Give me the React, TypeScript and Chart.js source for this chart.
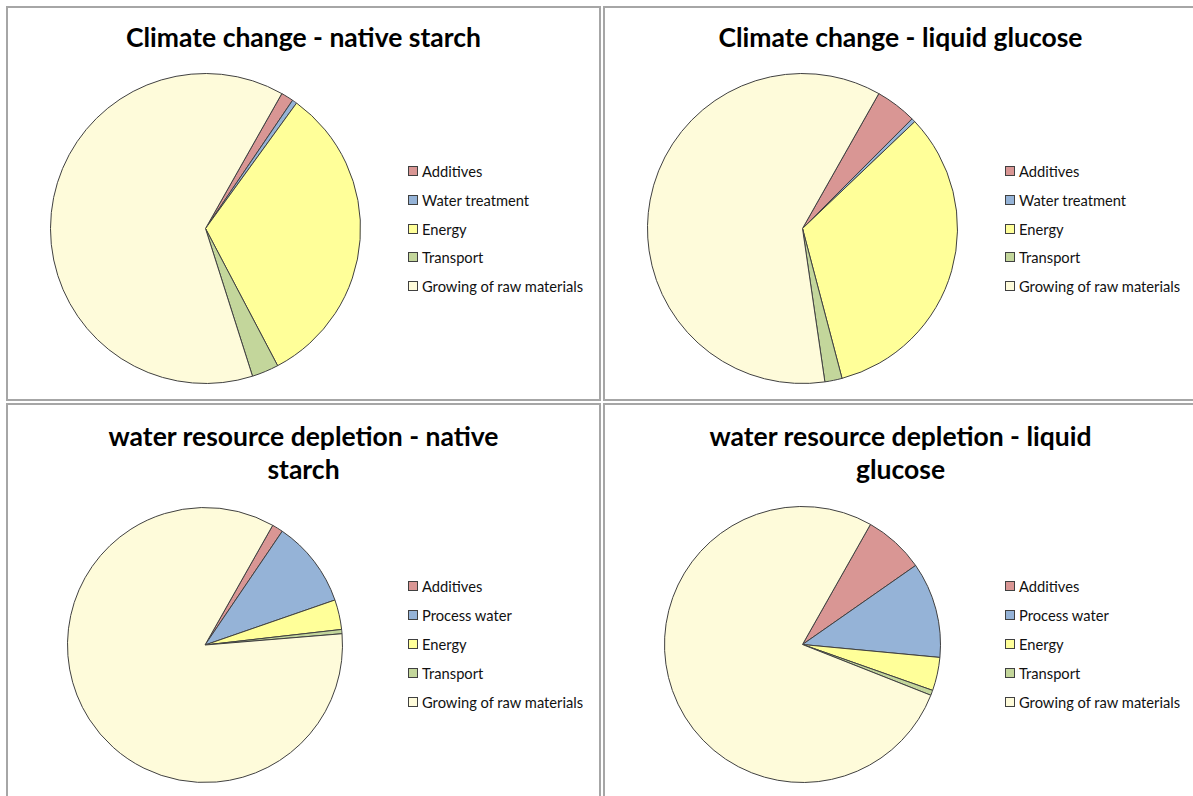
import React, { useEffect, useRef } from "react";
import { Chart, registerables } from "chart.js";

Chart.register(...registerables);

// ---- Data ----
const climateLabels = ["Additives", "Water treatment", "Energy", "Transport", "Growing of raw materials"];
const waterLabels = ["Additives", "Process water", "Energy", "Transport", "Growing of raw materials"];

const climateNativeStarch = [1.3, 0.5, 32.3, 2.8, 63.1];
const climateLiquidGlucose = [4.3, 0.4, 33.0, 1.8, 60.5];
const waterNativeStarch = [1.3, 10.2, 3.5, 0.5, 84.5];
const waterLiquidGlucose = [7.1, 11.2, 3.9, 0.6, 77.2];

const sliceColors = ["#D99694", "#95B3D7", "#FFFF99", "#C3D69B", "#FEFBDA"];

const titleClimateStarch = ["Climate change - native starch"];
const titleClimateGlucose = ["Climate change - liquid glucose"];
const titleWaterStarch = ["water resource depletion - native", "starch"];
const titleWaterGlucose = ["water resource depletion - liquid", "glucose"];

const FIRST_SLICE_ANGLE = 29.5;

type PanelDef = {
  left: number;
  top: number;
  title: string[];
  labels: string[];
  values: number[];
  cx: number;
  cy: number;
  r: number;
  titleTop: number;
  legendTop: number;
  legendStep: number;
};

const panels: PanelDef[] = [
  { left: 6, top: 6, title: titleClimateStarch, labels: climateLabels, values: climateNativeStarch, cx: 197, cy: 220.5, r: 155, titleTop: 13, legendTop: 163, legendStep: 28.75 },
  { left: 603, top: 6, title: titleClimateGlucose, labels: climateLabels, values: climateLiquidGlucose, cx: 197.5, cy: 220, r: 155, titleTop: 13, legendTop: 163, legendStep: 28.75 },
  { left: 6, top: 403, title: titleWaterStarch, labels: waterLabels, values: waterNativeStarch, cx: 196.5, cy: 239.5, r: 137.5, titleTop: 15, legendTop: 181, legendStep: 29 },
  { left: 603, top: 403, title: titleWaterGlucose, labels: waterLabels, values: waterLiquidGlucose, cx: 197, cy: 239.5, r: 138, titleTop: 15, legendTop: 181, legendStep: 29 },
];

const PANEL_W = 595;
const PANEL_H = 395;
const BORDER = 2;

function PiePanel({ p }: { p: PanelDef }) {
  const ref = useRef<HTMLCanvasElement | null>(null);
  const size = Math.round(p.r * 2 + 1);
  useEffect(() => {
    if (!ref.current) return;
    const chart = new Chart(ref.current, {
      type: "pie",
      data: {
        labels: p.labels,
        datasets: [
          {
            data: p.values,
            backgroundColor: sliceColors,
            borderColor: "#404040",
            borderWidth: 1,
          },
        ],
      },
      options: {
        responsive: false,
        animation: false,
        rotation: FIRST_SLICE_ANGLE,
        layout: { padding: 0 },
        plugins: {
          legend: { display: false },
          title: { display: false },
          tooltip: { enabled: false },
        },
      },
    });
    return () => chart.destroy();
  }, [p]);

  return (
    <div
      style={{
        position: "absolute",
        left: p.left,
        top: p.top,
        width: PANEL_W,
        height: PANEL_H,
        boxSizing: "border-box",
        border: `${BORDER}px solid #a6a6a6`,
        background: "#fff",
        overflow: "hidden",
      }}
    >
      <div
        style={{
          position: "absolute",
          left: 0,
          top: p.titleTop,
          width: PANEL_W - 2 * BORDER,
          textAlign: "center",
          fontFamily: "Lato, 'Open Sans', sans-serif",
          fontWeight: 700,
          fontSize: 26.5,
          lineHeight: "33px",
          color: "#000",
          whiteSpace: "nowrap",
        }}
      >
        {p.title.map((t, i) => (
          <div key={i}>{t}</div>
        ))}
      </div>
      <canvas
        ref={ref}
        width={size}
        height={size}
        style={{
          position: "absolute",
          left: Math.round(p.cx - size / 2),
          top: Math.round(p.cy - size / 2),
          width: size,
          height: size,
        }}
      />
      {p.labels.map((lab, i) => (
        <div
          key={lab}
          style={{
            position: "absolute",
            left: 400,
            top: p.legendTop + i * p.legendStep - 10,
            height: 20,
            display: "flex",
            alignItems: "center",
            fontFamily: "Lato, 'Open Sans', sans-serif",
            fontSize: 14.7,
            color: "#111",
            whiteSpace: "nowrap",
          }}
        >
          <span
            style={{
              display: "inline-block",
              width: 8,
              height: 8,
              border: "1px solid #404040",
              background: sliceColors[i],
              marginRight: 4,
            }}
          />
          <span>{lab}</span>
        </div>
      ))}
    </div>
  );
}

export default function App() {
  return (
    <div style={{ position: "fixed", left: 0, top: 0, width: 1193, height: 796, overflow: "hidden", background: "#fff" }}>
      {panels.map((p, i) => (
        <PiePanel key={i} p={p} />
      ))}
    </div>
  );
}
